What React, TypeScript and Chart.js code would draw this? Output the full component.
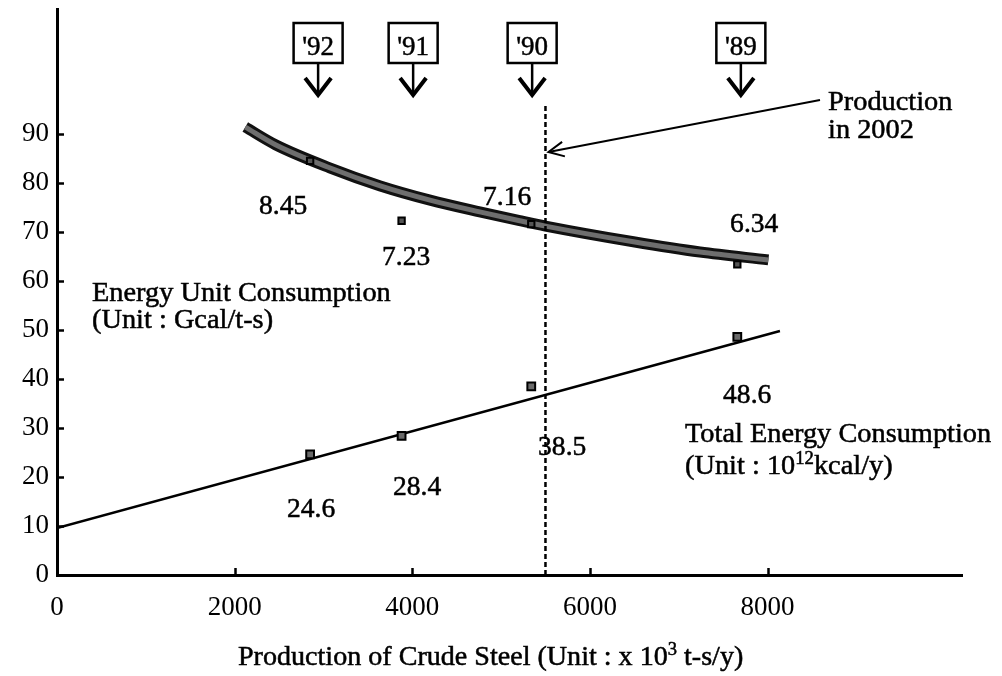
import React, { useEffect, useRef } from 'react';
import { Chart, registerables } from 'chart.js';

Chart.register(...registerables);

// ---- data ----
const years = ["'92", "'91", "'90", "'89"];
const productionX = [2850, 3880, 5340, 7660]; // x 10^3 t-s/y
const unitConsumption = [8.45, 7.23, 7.16, 6.34]; // Gcal/t-s (plotted x10)
const totalConsumption = [24.6, 28.4, 38.5, 48.6]; // 10^12 kcal/y

const unitCurveX = [2120, 2460, 3070, 3640, 4200, 4760, 5210, 5500, 6490, 7240, 8010];
const unitCurveY = [91.4, 87.8, 83.1, 79.4, 76.5, 74.1, 72.3, 71.2, 68.0, 65.9, 64.3];

const totalLineX = [0, 8140];
const totalLineY = [9.6, 49.8];

const production2002X = 5500;
const production2002LineY = [0, 95.9];

const yearMarkX = [2940, 4010, 5350, 7700];

const xTickValues = [0, 2000, 4000, 6000, 8000];
const yTickValues = [0, 10, 20, 30, 40, 50, 60, 70, 80, 90];

const FONT = '"Liberation Serif"';

type Seg = { t: string; sup?: boolean };

function drawRich(ctx: CanvasRenderingContext2D, segs: Seg[], x: number, y: number, size: number, sx = 1) {
  ctx.save();
  ctx.translate(x, y);
  ctx.scale(sx, 1);
  ctx.fillStyle = '#000';
  ctx.strokeStyle = '#000';
  ctx.lineWidth = 0.5;
  ctx.textBaseline = 'alphabetic';
  ctx.textAlign = 'left';
  let cx = 0;
  for (const s of segs) {
    const fs = s.sup ? size * 0.66 : size;
    ctx.font = `${fs}px ${FONT}`;
    const yy = s.sup ? -size * 0.36 : 0;
    ctx.fillText(s.t, cx, yy);
    ctx.strokeText(s.t, cx, yy);
    cx += ctx.measureText(s.t).width;
  }
  ctx.restore();
}

const annotationPlugin = {
  id: 'annotations',
  afterDatasetsDraw(chart: any) {
    const ctx: CanvasRenderingContext2D = chart.ctx;
    const xs = chart.scales.x;
    const ys = chart.scales.y;
    const area = chart.chartArea;
    const px = (v: number) => xs.getPixelForValue(v);
    const py = (v: number) => ys.getPixelForValue(v);

    ctx.save();
    ctx.strokeStyle = '#000';
    ctx.lineCap = 'butt';

    // inward tick marks
    ctx.lineWidth = 2.5;
    for (const v of yTickValues) {
      if (v === 0) continue;
      const y = Math.round(py(v)) + 0.5;
      ctx.beginPath();
      ctx.moveTo(area.left, y);
      ctx.lineTo(area.left + 7, y);
      ctx.stroke();
    }
    for (const v of xTickValues) {
      if (v === 0) continue;
      const x = Math.round(px(v)) + 0.5;
      ctx.beginPath();
      ctx.moveTo(x, area.bottom);
      ctx.lineTo(x, area.bottom - 7);
      ctx.stroke();
    }

    // year boxes with downward arrows
    const boxTop = area.top + 14;
    const boxH = 40;
    const boxW = 49;
    const tipY = area.top + 86;
    years.forEach((label, i) => {
      const cx = px(yearMarkX[i]);
      ctx.strokeStyle = '#000';
      ctx.lineWidth = 2.5;
      ctx.strokeRect(cx - boxW / 2, boxTop, boxW, boxH);
      ctx.save();
      ctx.font = `27px ${FONT}`;
      ctx.fillStyle = '#000';
      ctx.lineWidth = 0.5;
      ctx.textAlign = 'center';
      ctx.textBaseline = 'alphabetic';
      ctx.fillText(label, cx, boxTop + 32);
      ctx.strokeText(label, cx, boxTop + 32);
      ctx.restore();
      ctx.lineWidth = 2.5;
      ctx.beginPath();
      ctx.moveTo(cx, boxTop + boxH);
      ctx.lineTo(cx, tipY - 2);
      ctx.stroke();
      ctx.lineWidth = 4;
      ctx.lineJoin = 'miter';
      ctx.beginPath();
      ctx.moveTo(cx - 13, tipY - 17);
      ctx.lineTo(cx, tipY);
      ctx.lineTo(cx + 13, tipY - 17);
      ctx.stroke();
    });

    // value labels (left / baseline anchors in data units)
    const unitLabelAt = [
      [2275, 73.7],
      [3660, 63.3],
      [4797, 75.5],
      [7579, 70.0],
    ];
    const totalLabelAt = [
      [2590, 11.8],
      [3784, 16.3],
      [5417, 24.5],
      [7500, 35.1],
    ];
    unitConsumption.forEach((v, i) => {
      drawRich(ctx, [{ t: v.toFixed(2) }], px(unitLabelAt[i][0]), py(unitLabelAt[i][1]), 27, 1.02);
    });
    totalConsumption.forEach((v, i) => {
      drawRich(ctx, [{ t: v.toFixed(1) }], px(totalLabelAt[i][0]), py(totalLabelAt[i][1]), 27, 1.02);
    });

    // series labels
    drawRich(ctx, [{ t: 'Energy Unit Consumption' }], 92, 301, 27, 1.05);
    drawRich(ctx, [{ t: '(Unit : Gcal/t-s)' }], 92, 328, 27, 1.05);
    drawRich(ctx, [{ t: 'Total Energy Consumption' }], 685, 442, 27, 1.05);
    drawRich(ctx, [{ t: '(Unit : 10' }, { t: '12', sup: true }, { t: 'kcal/y)' }], 685, 474, 27, 1.05);

    // Production in 2002 callout
    drawRich(ctx, [{ t: 'Production' }], 828, 110, 27, 1.05);
    drawRich(ctx, [{ t: 'in 2002' }], 828, 138, 27, 1.05);
    const sx0 = 820, sy0 = 100;
    const tx = px(production2002X) + 3, ty = 152;
    ctx.strokeStyle = '#000';
    ctx.lineWidth = 1.8;
    ctx.beginPath();
    ctx.moveTo(sx0, sy0);
    ctx.lineTo(tx, ty);
    ctx.stroke();
    const ang = Math.atan2(sy0 - ty, sx0 - tx);
    const L = 17;
    ctx.lineWidth = 2;
    ctx.beginPath();
    ctx.moveTo(tx + L * Math.cos(ang + 0.45), ty + L * Math.sin(ang + 0.45));
    ctx.lineTo(tx, ty);
    ctx.lineTo(tx + L * Math.cos(ang - 0.45), ty + L * Math.sin(ang - 0.45));
    ctx.stroke();

    // x axis title
    drawRich(
      ctx,
      [{ t: 'Production of Crude Steel (Unit : x 10' }, { t: '3', sup: true }, { t: ' t-s/y)' }],
      238,
      665,
      27,
      1.04
    );

    ctx.restore();
  },
};

export default function App() {
  const canvasRef = useRef<HTMLCanvasElement | null>(null);

  useEffect(() => {
    document.body.style.margin = '0';
    const canvas = canvasRef.current;
    if (!canvas) return;

    let chart: Chart | null = null;
    let cancelled = false;

    const build = () => {
      if (cancelled || chart) return;
      const tickFont = { family: FONT, size: 27 };
      chart = new Chart(canvas, {
        type: 'scatter',
        data: {
          datasets: [
            {
              label: 'Production in 2002',
              data: production2002LineY.map((y) => ({ x: production2002X, y })),
              showLine: true,
              borderColor: '#000',
              borderWidth: 2.5,
              borderDash: [5, 3],
              pointRadius: 0,
            },
            {
              label: 'Total Energy Consumption',
              data: productionX.map((x, i) => ({ x, y: totalConsumption[i] })),
              pointStyle: 'rect',
              pointRadius: 5.5,
              backgroundColor: '#6a6a6a',
              borderColor: '#000',
              borderWidth: 2,
            },
            {
              label: 'Energy Unit Consumption',
              data: productionX.map((x, i) => ({ x, y: unitConsumption[i] * 10 })),
              pointStyle: 'rect',
              pointRadius: 4.5,
              backgroundColor: '#555',
              borderColor: '#000',
              borderWidth: 2,
            },
            {
              label: 'unit curve inner',
              data: unitCurveX.map((x, i) => ({ x, y: unitCurveY[i] })),
              showLine: true,
              borderColor: '#6e6e6e',
              borderWidth: 5,
              pointRadius: 0,
              cubicInterpolationMode: 'monotone',
            },
            {
              label: 'unit curve outer',
              data: unitCurveX.map((x, i) => ({ x, y: unitCurveY[i] })),
              showLine: true,
              borderColor: '#111',
              borderWidth: 11,
              pointRadius: 0,
              cubicInterpolationMode: 'monotone',
            },
            {
              label: 'total trend',
              data: totalLineX.map((x, i) => ({ x, y: totalLineY[i] })),
              showLine: true,
              borderColor: '#000',
              borderWidth: 2.5,
              pointRadius: 0,
            },
          ],
        } as any,
        options: {
          responsive: false,
          animation: false,
          events: [],
          layout: { padding: { top: 9, right: 40, left: 0, bottom: 0 } },
          plugins: {
            legend: { display: false },
            tooltip: { enabled: false },
          },
          scales: {
            x: {
              type: 'linear',
              min: 0,
              max: 10190,
              afterBuildTicks: (s: any) => {
                s.ticks = xTickValues.map((value) => ({ value }));
              },
              afterFit: (s: any) => {
                s.height = 101;
                s.paddingLeft = 0;
                s.paddingRight = 0;
              },
              grid: { display: false, drawTicks: false, tickLength: 0 },
              border: { display: true, color: '#000', width: 3 },
              ticks: {
                font: tickFont,
                color: '#000',
                padding: 17,
                maxRotation: 0,
                autoSkip: false,
                callback: (v: any) => String(v),
              },
            },
            y: {
              type: 'linear',
              min: 0,
              max: 115.5,
              afterBuildTicks: (s: any) => {
                s.ticks = yTickValues.map((value) => ({ value }));
              },
              afterFit: (s: any) => {
                s.width = 57;
                s.paddingTop = 0;
                s.paddingBottom = 0;
              },
              grid: { display: false, drawTicks: false, tickLength: 0 },
              border: { display: true, color: '#000', width: 3 },
              ticks: {
                font: tickFont,
                color: '#000',
                padding: 8,
                autoSkip: false,
                callback: (v: any) => String(v),
              },
            },
          },
        } as any,
        plugins: [annotationPlugin],
      });
    };

    const fonts: any = (document as any).fonts;
    if (fonts && fonts.load) {
      Promise.all([
        fonts.load('27px "Liberation Serif"', '0123456789Production'),
        fonts.load('18px "Liberation Serif"', '123'),
      ])
        .catch(() => undefined)
        .then(() => build());
    } else {
      build();
    }

    return () => {
      cancelled = true;
      if (chart) chart.destroy();
    };
  }, []);

  return (
    <div style={{ position: 'absolute', left: 0, top: 0, width: 1002, height: 676, background: '#fff' }}>
      <canvas ref={canvasRef} width={1002} height={676} style={{ display: 'block', width: 1002, height: 676 }} />
    </div>
  );
}
